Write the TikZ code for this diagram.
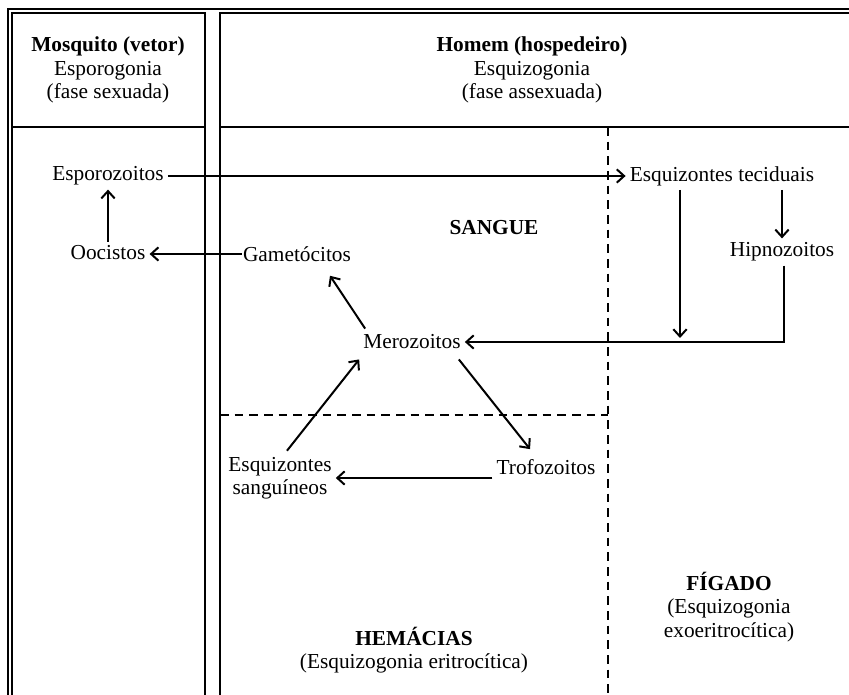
\documentclass[tikz,border=0pt]{standalone}
\usepackage{fontspec}
\setmainfont{Liberation Serif}
\usetikzlibrary{arrows.meta,positioning}

\begin{document}
\begin{tikzpicture}[x=0.75pt, y=-0.75pt,
    every node/.style={font=\fontsize{16}{17.5}\selectfont, align=center, inner sep=3pt},
    grade/.style={line width=1.4pt},
    divisa/.style={line width=1.4pt, dash pattern=on 6.5pt off 4.5pt},
    seta/.style={line width=1.5pt, -{Straight Barb[length=5.5pt,width=10pt,line width=1.5pt]}},
    regiao/.style={font=\fontsize{16}{17.5}\selectfont\bfseries}]
            \useasboundingbox (0,0) rectangle (849,695);

            % Frame
            \draw[grade] (8,695) -- (8,9) -- (849,9);
            \draw[grade] (12,695) -- (12,13) -- (205,13) -- (205,695);
            \draw[grade] (849,13) -- (220,13) -- (220,695);
            \draw[grade] (12,127) -- (205,127);
            \draw[grade] (220,127) -- (849,127);
            \draw[divisa] (608,127) -- (608,695);
            \draw[divisa] (220,415) -- (608,415);

            % Headers
            \node (mosq) at (108,70) {\textbf{Mosquito (vetor)}\\Esporogonia\\(fase sexuada)};
            \node (homem) at (532,70) {\textbf{Homem (hospedeiro)}\\Esquizogonia\\(fase assexuada)};
            \node[regiao] (sangue) at (494,228) {SANGUE};
            \node (hemac) at (414,650) {\textbf{HEMÁCIAS}\\(Esquizogonia eritrocítica)};
            \node (figado) at (729,607) {\textbf{FÍGADO}\\(Esquizogonia\\exoeritrocítica)};

            % Nodes
            \node (espo) at (108,176) {Esporozoitos};
            \node (oocis) at (108,253) {Oocistos};
            \node (gamet) at (297,254) {Gametócitos};
            \node (teci) at (722,176) {Esquizontes teciduais};
            \node (hipno) at (782,252) {Hipnozoitos};
            \node (mero) at (412,342) {Merozoitos};
            \node (trofo) at (546,467) {Trofozoitos};
            \node (sangu) at (280,478) {Esquizontes\\sanguíneos};
            \coordinate (tdown) at (680,338);

            % Edges
            \draw[seta] (espo.east) -- (teci.west);
            \draw[seta] (oocis.north) -- (espo.south);
            \draw[seta] ([shift={(3,0)}]gamet.west) -- (gamet.west -| oocis.east);
            \draw[seta] (hipno.north |- teci.south) -- (hipno.north);
            \draw[seta] (tdown |- teci.south) -- (tdown);
            \draw[seta] ([shift={(2,0)}]hipno.south) |- (mero.east);
            \draw[seta] ([shift={(6,-2)}]mero.north west) -- ([shift={(33,10)}]gamet.south);
            \draw[seta] ([shift={(-6,6)}]mero.south east) -- ([shift={(-16,-6)}]trofo.north);
            \draw[seta] (trofo.west |- sangu.east) -- (sangu.east);
            \draw[seta] ([shift={(7,-2)}]sangu.north) -- ([shift={(0,6)}]mero.south west);
        \end{tikzpicture}
\end{document}
